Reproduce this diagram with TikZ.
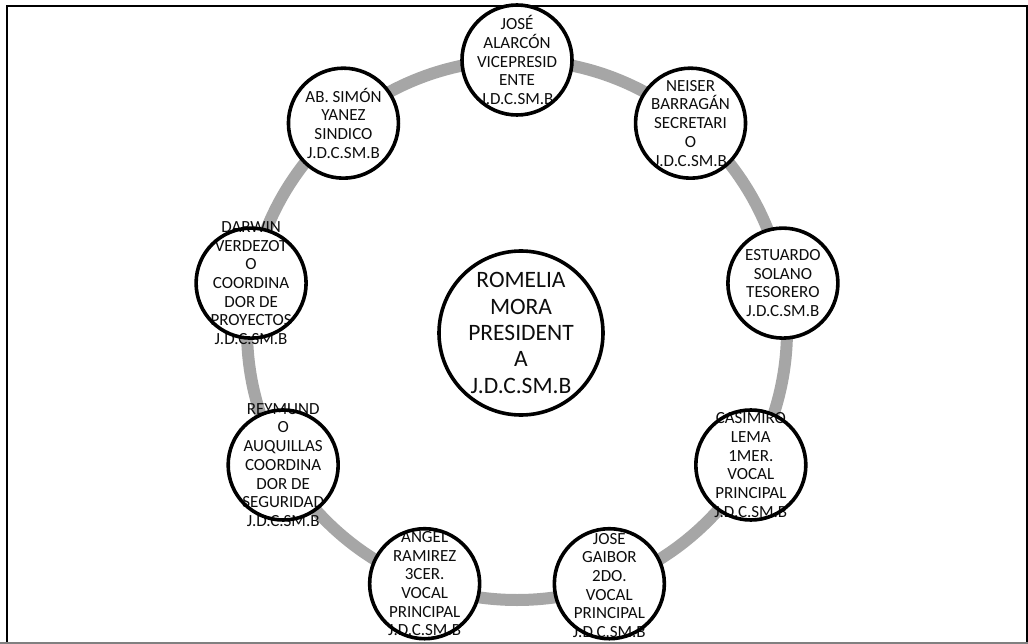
\documentclass[tikz,border=0pt]{standalone}
\usepackage{fontspec}
\setmainfont{Carlito}
\usetikzlibrary{calc}
\definecolor{ringgray}{HTML}{A6A6A6}
\definecolor{inkgray}{HTML}{0D0D0D}
\begin{document}
\begin{tikzpicture}[x=1pt,y=-1pt,
  ringline/.style={draw=ringgray, line width=12pt},
  discfill/.style={fill=white},
  discedge/.style={draw=black, line width=3.6pt},
  membertext/.style={align=center, inner sep=0pt, text=inkgray,
    font=\fontsize{17}{18.7}\selectfont},
  headtext/.style={align=center, inner sep=0pt, text=inkgray,
    font=\fontsize{23.5}{26.3}\selectfont},
  frameline/.style={draw=black, line width=1.6pt}]
\useasboundingbox (0,0) rectangle (1028,644);
\begin{scope}
\clip (0,0) rectangle (1028,642);
% page frame
\draw[frameline] (7,642) -- (7,6) -- (1027,6) -- (1027,642);
% centre and the ring through the members
\coordinate (hub) at (517,330);
\draw[ringline] (hub) circle (270pt);
% president
\fill[discfill] (521,333) circle (82pt);
\node[headtext] (pres) at (521,333) {ROMELIA\\MORA\\PRESIDENT\\A\\J.D.C.SM.B};
\draw[discedge] (pres.center) circle (82pt);
% board members around the ring
\foreach \nm/\ang/\txt in {
  alarcon/90/{JOSÉ\\ALARCÓN\\VICEPRESID\\ENTE\\J.D.C.SM.B},
  barragan/50/{NEISER\\BARRAGÁN\\SECRETARI\\O\\J.D.C.SM.B},
  solano/10/{ESTUARDO\\SOLANO\\TESORERO\\J.D.C.SM.B},
  lema/-30/{CASIMIRO\\LEMA\\1MER.\\VOCAL\\PRINCIPAL\\J.D.C.SM.B},
  gaibor/-70/{JOSÉ\\GAIBOR\\2DO.\\VOCAL\\PRINCIPAL\\J.D.C.SM.B},
  ramirez/-110/{ANGEL\\RAMIREZ\\3CER.\\VOCAL\\PRINCIPAL\\J.D.C.SM.B},
  auquillas/-150/{REYMUND\\O\\AUQUILLAS\\COORDINA\\DOR DE\\SEGURIDAD\\J.D.C.SM.B},
  verdezoto/170/{DARWIN\\VERDEZOT\\O\\COORDINA\\DOR DE\\PROYECTOS\\J.D.C.SM.B},
  yanez/130/{AB. SIMÓN\\YANEZ\\SINDICO\\J.D.C.SM.B}}{
  \fill[discfill] ($(hub)+(\ang:270pt)$) circle (55pt);
  \node[membertext] (\nm) at ($(hub)+(\ang:270pt)$) {\txt};
  \draw[discedge] (\nm.center) circle (55pt);
}
\end{scope}
% lower edge of the page area
\draw[draw=gray, line width=2pt] (0,643) -- (1028,643);
\end{tikzpicture}
\end{document}
